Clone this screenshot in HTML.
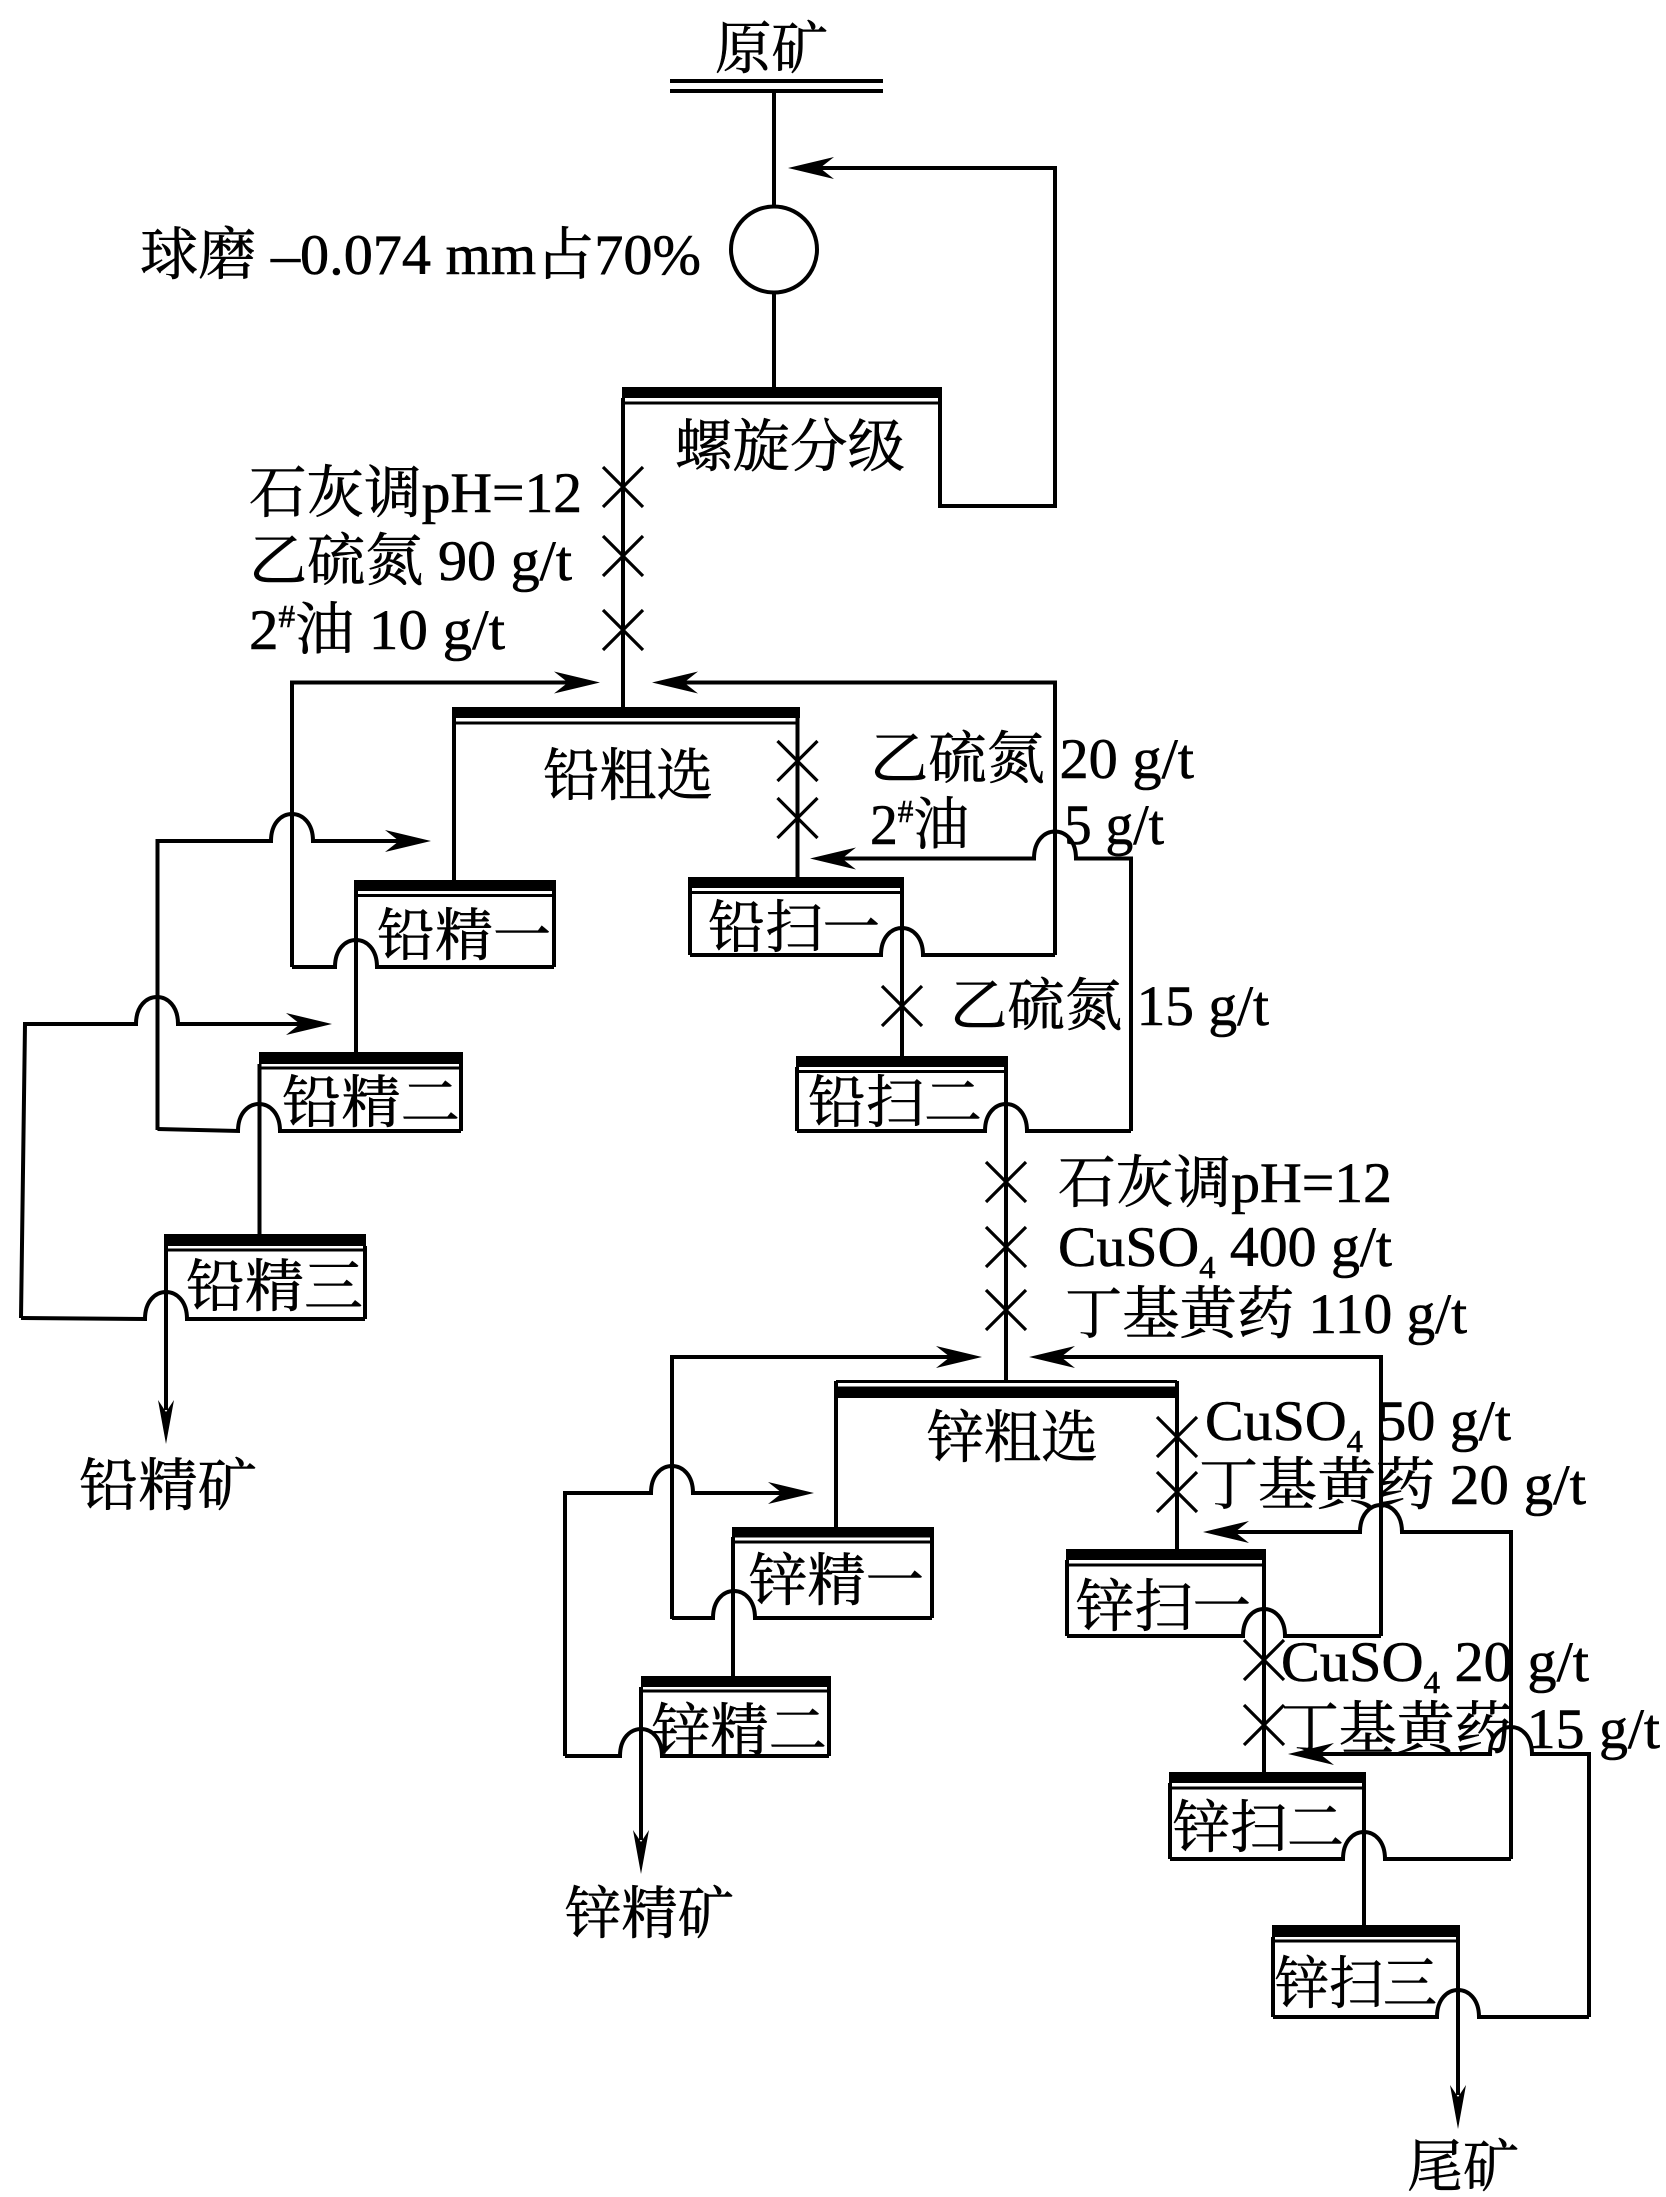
<!DOCTYPE html>
<html><head><meta charset="utf-8"><style>
html,body{margin:0;padding:0;background:#fff;}
svg{display:block;}
text{font-family:"Liberation Serif","Noto Serif CJK SC",serif;font-size:57px;fill:#000;stroke:#000;stroke-width:0.6px;}
</style></head><body>
<svg width="1666" height="2197" viewBox="0 0 1666 2197" xmlns="http://www.w3.org/2000/svg">
<rect width="1666" height="2197" fill="#fff"/>
<g fill="none" stroke="#000" stroke-width="4" stroke-linejoin="miter">
<!-- top -->
<line x1="670" y1="81" x2="883" y2="81"/>
<line x1="670" y1="91" x2="883" y2="91"/>
<line x1="774" y1="91" x2="774" y2="206"/>
<circle cx="774" cy="249.5" r="43"/>
<line x1="774" y1="293" x2="774" y2="388"/>
<path d="M940,398 L940,506 L1055,506 L1055,168 L805,168"/>
<!-- spiral classifier -->
<line x1="623" y1="403" x2="940" y2="403" stroke-width="3"/>
<line x1="623" y1="398" x2="623" y2="708"/>
<path d="M603,467 L643,507 M643,467 L603,507 M603,536 L643,576 M643,536 L603,576 M603,610 L643,650 M643,610 L603,650" stroke-width="3.2"/>
<!-- rougher feed arrows -->
<path d="M292,967 L292,682.5 L585,682.5"/>
<path d="M1055,955 L1055,682.5 L667,682.5"/>
<!-- lead rougher -->
<line x1="454" y1="723" x2="798" y2="723" stroke-width="3"/>
<line x1="454" y1="718" x2="454" y2="881"/>
<line x1="797.5" y1="718" x2="797.5" y2="878"/>
<path d="M777.5,741 L817.5,781 M817.5,741 L777.5,781 M777.5,798 L817.5,838 M817.5,798 L777.5,838" stroke-width="3.2"/>
<path d="M1131,1131 L1131,858.5 L1076,858.5 C1076,822.5 1034,822.5 1034,858.5 L825,858.5"/>
<!-- lead scavenger 1 -->
<line x1="690" y1="892.5" x2="902" y2="892.5" stroke-width="3"/>
<line x1="690" y1="888" x2="690" y2="955"/>
<path d="M690,955 L881,955 C881,919 923,919 923,955 L1055,955"/>
<line x1="902" y1="888" x2="902" y2="1057"/>
<path d="M882,986 L922,1026 M922,986 L882,1026" stroke-width="3.2"/>
<!-- lead scavenger 2 -->
<line x1="797" y1="1071.5" x2="1006" y2="1071.5" stroke-width="3"/>
<line x1="797" y1="1067" x2="797" y2="1131"/>
<path d="M797,1131 L985,1131 C985,1095 1027,1095 1027,1131 L1131,1131"/>
<line x1="1006" y1="1067" x2="1006" y2="1382"/>
<!-- lead cleaner 1 -->
<line x1="356" y1="895.5" x2="554" y2="895.5" stroke-width="3"/>
<line x1="554" y1="891" x2="554" y2="967"/>
<path d="M292,967 L335,967 C335,931 377,931 377,967 L554,967"/>
<line x1="356" y1="891" x2="356" y2="1053"/>
<path d="M157.5,1130 L157.5,841 L271,841 C271,805 313,805 313,841 L416,841"/>
<!-- lead cleaner 2 -->
<line x1="260" y1="1068" x2="461" y2="1068" stroke-width="3"/>
<line x1="461" y1="1064" x2="461" y2="1131"/>
<path d="M157.5,1129 L238,1131 C238,1095 280,1095 280,1131 L461,1131"/>
<line x1="259.5" y1="1064" x2="259.5" y2="1235"/>
<path d="M21,1318 L25,1024 L136,1024 C136,988 178,988 178,1024 L317,1024"/>
<!-- lead cleaner 3 -->
<line x1="166" y1="1250" x2="365" y2="1250" stroke-width="3"/>
<line x1="365" y1="1246" x2="365" y2="1319"/>
<path d="M21,1318 L145,1319 C145,1283 187,1283 187,1319 L365,1319"/>
<line x1="166" y1="1246" x2="166" y2="1410"/>
<!-- zinc feed -->
<path d="M986,1162 L1026,1202 M1026,1162 L986,1202 M986,1227 L1026,1267 M1026,1227 L986,1267 M986,1290 L1026,1330 M1026,1290 L986,1330" stroke-width="3.2"/>
<path d="M672,1619 L672,1357 L967,1357"/>
<path d="M1381,1636 L1381,1357 L1044,1357"/>
<!-- zinc rougher -->
<line x1="836" y1="1381.5" x2="1177" y2="1381.5" stroke-width="3"/>
<line x1="836" y1="1381" x2="836" y2="1528"/>
<line x1="1177" y1="1381" x2="1177" y2="1551"/>
<path d="M1157,1417 L1197,1457 M1197,1417 L1157,1457 M1157,1472 L1197,1512 M1197,1472 L1157,1512" stroke-width="3.2"/>
<path d="M1511,1859 L1511,1532 L1402,1532 C1402,1496 1360,1496 1360,1532 L1218,1532"/>
<path d="M565,1756 L565,1493 L651,1493 C651,1457 693,1457 693,1493 L799,1493"/>
<!-- zinc cleaner 1 -->
<line x1="733" y1="1542" x2="932" y2="1542" stroke-width="3"/>
<line x1="932" y1="1537" x2="932" y2="1618"/>
<path d="M672,1618 L713,1618 C713,1582 755,1582 755,1618 L932,1618"/>
<line x1="733" y1="1537" x2="733" y2="1677"/>
<!-- zinc cleaner 2 -->
<line x1="642" y1="1691" x2="829" y2="1691" stroke-width="3"/>
<line x1="829" y1="1687" x2="829" y2="1756"/>
<path d="M565,1756 L620,1756 C620,1720 662,1720 662,1756 L829,1756"/>
<line x1="641" y1="1687" x2="641" y2="1840"/>
<!-- zinc scavenger 1 -->
<line x1="1067" y1="1565" x2="1264" y2="1565" stroke-width="3"/>
<line x1="1067" y1="1560" x2="1067" y2="1636"/>
<path d="M1067,1636 L1243,1636 C1243,1600 1285,1600 1285,1636 L1381,1636"/>
<line x1="1264" y1="1560" x2="1264" y2="1773"/>
<path d="M1244,1640 L1284,1680 M1284,1640 L1244,1680 M1244,1705 L1284,1745 M1284,1705 L1244,1745" stroke-width="3.2"/>
<path d="M1589,2017 L1589,1754 L1532,1754 C1532,1718 1490,1718 1490,1754 L1303,1754"/>
<!-- zinc scavenger 2 -->
<line x1="1170" y1="1788" x2="1364" y2="1788" stroke-width="3"/>
<line x1="1170" y1="1783" x2="1170" y2="1859"/>
<path d="M1170,1859 L1343,1859 C1343,1823 1385,1823 1385,1859 L1511,1859"/>
<line x1="1364" y1="1783" x2="1364" y2="1926"/>
<!-- zinc scavenger 3 -->
<line x1="1273" y1="1941" x2="1458" y2="1941" stroke-width="3"/>
<line x1="1273" y1="1937" x2="1273" y2="2017"/>
<path d="M1273,2017 L1437,2017 C1437,1981 1479,1981 1479,2017 L1589,2017"/>
<line x1="1458" y1="1937" x2="1458" y2="2095"/>
</g>
<!-- thick bars -->
<g fill="#000">
<rect x="622" y="387" width="320" height="11"/>
<rect x="452" y="707" width="348" height="11"/>
<rect x="688" y="877" width="216" height="11"/>
<rect x="796" y="1056" width="212" height="11"/>
<rect x="354" y="880" width="202" height="11"/>
<rect x="259" y="1052" width="204" height="12"/>
<rect x="164" y="1234" width="202" height="12"/>
<rect x="834" y="1386.5" width="345" height="11.5"/>
<rect x="732" y="1527" width="202" height="10.5"/>
<rect x="641" y="1676" width="190" height="11"/>
<rect x="1066" y="1549" width="200" height="11"/>
<rect x="1169" y="1772" width="197" height="11"/>
<rect x="1272" y="1925" width="188" height="12"/>
<!-- arrowheads -->
<path d="M788,168 L834,157 L820,168 L834,179 Z"/>
<path d="M600,682.5 L554,671.5 L568,682.5 L554,693.5 Z"/>
<path d="M652,682.5 L698,671.5 L684,682.5 L698,693.5 Z"/>
<path d="M810,858.5 L856,847.5 L842,858.5 L856,869.5 Z"/>
<path d="M431,841 L385,830 L399,841 L385,852 Z"/>
<path d="M332,1024 L286,1013 L300,1024 L286,1035 Z"/>
<path d="M166,1444 L158,1400 L166,1412 L174,1400 Z"/>
<path d="M982,1357 L936,1346 L950,1357 L936,1368 Z"/>
<path d="M1029,1357 L1075,1346 L1061,1357 L1075,1368 Z"/>
<path d="M1203,1532 L1249,1521 L1235,1532 L1249,1543 Z"/>
<path d="M814,1493 L768,1482 L782,1493 L768,1504 Z"/>
<path d="M641,1874 L633,1830 L641,1842 L649,1830 Z"/>
<path d="M1288,1754 L1334,1743 L1320,1754 L1334,1765 Z"/>
<path d="M1458,2129 L1450,2085 L1458,2097 L1466,2085 Z"/>
</g>
<!-- texts -->
<text x="715" y="68" textLength="113" lengthAdjust="spacingAndGlyphs">原矿</text>
<text x="140" y="274" textLength="561" lengthAdjust="spacingAndGlyphs">球磨 –0.074 mm占70%</text>
<text x="675" y="466" textLength="230" lengthAdjust="spacingAndGlyphs">螺旋分级</text>
<text x="249" y="512" textLength="333" lengthAdjust="spacingAndGlyphs">石灰调pH=12</text>
<text x="249" y="580" textLength="323" lengthAdjust="spacingAndGlyphs">乙硫氮 90 g/t</text>
<text x="249" y="649" textLength="256" lengthAdjust="spacingAndGlyphs">2<tspan font-size="32" dy="-22">#</tspan><tspan dy="22">油 10 g/t</tspan></text>
<text x="543" y="795" textLength="170" lengthAdjust="spacingAndGlyphs">铅粗选</text>
<text x="870" y="778" textLength="324" lengthAdjust="spacingAndGlyphs">乙硫氮 20 g/t</text>
<text x="870" y="844" textLength="99" lengthAdjust="spacingAndGlyphs">2<tspan font-size="32" dy="-22">#</tspan><tspan dy="22">油</tspan></text>
<text x="1064" y="844" textLength="100" lengthAdjust="spacingAndGlyphs">5 g/t</text>
<text x="708" y="947" textLength="172" lengthAdjust="spacingAndGlyphs">铅扫一</text>
<text x="950" y="1025" textLength="319" lengthAdjust="spacingAndGlyphs">乙硫氮 15 g/t</text>
<text x="808" y="1122" textLength="174" lengthAdjust="spacingAndGlyphs">铅扫二</text>
<text x="377" y="955" textLength="174" lengthAdjust="spacingAndGlyphs">铅精一</text>
<text x="282" y="1122" textLength="178" lengthAdjust="spacingAndGlyphs">铅精二</text>
<text x="186" y="1306" textLength="177" lengthAdjust="spacingAndGlyphs">铅精三</text>
<text x="79" y="1505" textLength="178" lengthAdjust="spacingAndGlyphs">铅精矿</text>
<text x="1058" y="1202" textLength="334" lengthAdjust="spacingAndGlyphs">石灰调pH=12</text>
<text x="1058" y="1266" textLength="334" lengthAdjust="spacingAndGlyphs">CuSO<tspan font-size="32" dy="12">4</tspan><tspan dy="-12"> 400 g/t</tspan></text>
<text x="1065" y="1333" textLength="402" lengthAdjust="spacingAndGlyphs">丁基黄药 110 g/t</text>
<text x="927" y="1457" textLength="171" lengthAdjust="spacingAndGlyphs">锌粗选</text>
<text x="1205" y="1440" textLength="306" lengthAdjust="spacingAndGlyphs">CuSO<tspan font-size="32" dy="12">4</tspan><tspan dy="-12"> 50 g/t</tspan></text>
<text x="1199" y="1504" textLength="387" lengthAdjust="spacingAndGlyphs">丁基黄药 20 g/t</text>
<text x="749" y="1600" textLength="175" lengthAdjust="spacingAndGlyphs">锌精一</text>
<text x="652" y="1750" textLength="175" lengthAdjust="spacingAndGlyphs">锌精二</text>
<text x="565" y="1933" textLength="169" lengthAdjust="spacingAndGlyphs">锌精矿</text>
<text x="1076" y="1626" textLength="175" lengthAdjust="spacingAndGlyphs">锌扫一</text>
<text x="1281" y="1681" textLength="308" lengthAdjust="spacingAndGlyphs">CuSO<tspan font-size="32" dy="12">4</tspan><tspan dy="-12"> 20 g/t</tspan></text>
<text x="1281" y="1748" textLength="379" lengthAdjust="spacingAndGlyphs">丁基黄药 15 g/t</text>
<text x="1173" y="1847" textLength="171" lengthAdjust="spacingAndGlyphs">锌扫二</text>
<text x="1275" y="2003" textLength="162" lengthAdjust="spacingAndGlyphs">锌扫三</text>
<text x="1407" y="2186" textLength="112" lengthAdjust="spacingAndGlyphs">尾矿</text>
</svg>
</body></html>
